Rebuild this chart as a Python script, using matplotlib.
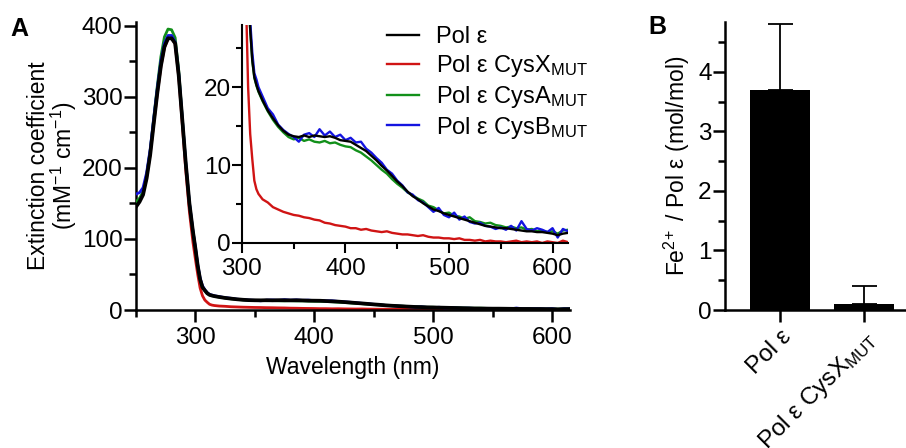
import matplotlib
matplotlib.use("Agg")
import matplotlib.pyplot as plt
from matplotlib.ticker import MultipleLocator

plt.rcParams['font.family'] = ['Liberation Sans', 'DejaVu Sans']
plt.rcParams['mathtext.default'] = 'regular'
plt.rcParams['font.size'] = 16.5

# absorbance spectra
wavelength = [250, 253, 256, 259, 262, 265, 268, 271, 274, 277, 280, 283,
              286, 289, 292, 295, 298, 300,
              302, 304, 306, 308, 310, 312, 314, 316,
              320, 325, 330, 335, 340, 345, 350, 355, 360, 365, 370, 375,
              380, 385, 390, 395, 400, 405, 410, 415, 420, 425, 430, 435,
              440, 445, 450, 455, 460, 465, 470, 475, 480, 485, 490, 495,
              500, 505, 510, 515, 520, 525, 530, 535, 540, 545, 550, 555,
              560, 565, 570, 575, 580, 585, 590, 595, 600, 605, 610, 615]

pol_e = [145, 152, 162, 185, 218, 262, 305, 343, 370, 382, 382, 375,
         330, 268, 205, 150, 110, 87,
         62, 43, 32, 27.5, 23.5, 21.3, 20.3, 19.5,
         18.3, 17.0, 16.0, 15.1, 14.4, 13.9, 13.7, 13.6, 13.8, 13.6, 13.8, 13.7,
         13.6, 13.7, 13.5, 13.2, 13.1, 13.0, 12.6, 12.2, 11.8, 11.2, 10.6, 9.9,
         9.3, 8.6, 7.9, 7.3, 6.6, 6.0, 5.6, 5.1, 4.7, 4.3, 4.1, 3.8,
         3.6, 3.4, 3.2, 3.0, 2.8, 2.6, 2.4, 2.2, 2.1, 2.0, 1.9, 1.9,
         1.8, 1.7, 1.6, 1.5, 1.5, 1.4, 1.4, 1.3, 1.2, 1.0, 1.2, 1.3]

cysx = [150, 155, 164, 186, 219, 262, 304, 342, 369, 381, 383, 374,
        328, 262, 195, 138, 95, 72,
        50, 31, 20, 14, 10.8, 8.0, 6.9, 6.3,
        5.6, 5.2, 4.6, 4.3, 4.0, 3.8, 3.6, 3.5, 3.3, 3.2, 3.0, 2.9,
        2.6, 2.5, 2.3, 2.2, 2.1, 1.9, 1.9, 1.7, 1.8, 1.6, 1.5, 1.4,
        1.5, 1.3, 1.2, 1.1, 1.1, 1.0, 0.9, 1.0, 0.8, 0.7, 0.7, 0.6,
        0.6, 0.5, 0.6, 0.4, 0.4, 0.3, 0.4, 0.2, 0.3, 0.2, 0.2, 0.1,
        0.2, 0.3, 0.1, 0.2, 0.1, 0.2, 0.0, 0.2, 0.1, 0.0, 0.3, 0.1]

cysa = [152, 157, 166, 190, 224, 270, 315, 356, 384, 395, 394, 383,
        337, 270, 205, 150, 110, 87,
        62, 43, 32, 27.4, 23.4, 21.2, 20.2, 19.4,
        18.2, 16.9, 15.8, 14.9, 14.2, 13.6, 13.3, 13.5, 13.1, 13.3, 13.0, 12.9,
        13.1, 12.8, 12.9, 12.6, 12.4, 12.3, 11.9, 11.6, 11.1, 10.6, 10.0, 9.4,
        8.9, 8.2, 7.6, 7.1, 6.5, 6.1, 5.7, 5.4, 4.8, 4.6, 4.2, 3.8,
        3.9, 3.5, 3.4, 3.1, 3.3, 2.8, 2.7, 2.5, 2.6, 2.3, 2.2, 2.0,
        2.1, 1.9, 2.0, 1.7, 1.8, 1.5, 1.6, 1.4, 1.5, 1.2, 1.6, 1.7]

cysb = [163, 165, 172, 193, 226, 270, 312, 350, 375, 386, 386, 377,
        333, 270, 206, 151, 111, 89,
        64, 45, 34, 28.5, 24.5, 21.8, 21.0, 20.0,
        18.8, 17.3, 16.5, 15.2, 14.5, 14.0, 13.6, 13.0, 13.9, 14.1, 13.6, 14.6,
        13.8, 14.3, 13.6, 13.9, 13.2, 13.5, 12.9, 13.0, 12.1, 11.6, 10.9, 10.3,
        9.4, 8.9, 8.0, 7.4, 6.5, 6.2, 5.5, 5.2, 4.6, 4.0, 4.5, 3.6,
        3.3, 3.9, 3.0, 3.4, 2.7, 2.5, 2.6, 2.2, 2.1, 1.8, 2.0, 1.7,
        2.2, 1.6, 2.8, 1.8, 1.6, 1.9, 1.7, 1.4, 1.9, 0.7, 1.8, 1.5]

# Fe2+ content
samples = ['Pol ε', 'Pol ε CysX$_{MUT}$']
fe_mean = [3.7, 0.1]
fe_err = [1.1, 0.3]

series = [
    ('Pol ε', pol_e, '#000000'),
    ('Pol ε CysX$_{MUT}$', cysx, '#d01414'),
    ('Pol ε CysA$_{MUT}$', cysa, '#12901a'),
    ('Pol ε CysB$_{MUT}$', cysb, '#1414e0'),
]
zorders = [5, 2, 3, 4]
TICK_FS = 17.5

fig = plt.figure(figsize=(9.06, 4.48), dpi=100)

def style(ax, lw=1.8, major=8.5, minor=5):
    for s in ['top', 'right']:
        ax.spines[s].set_visible(False)
    for s in ['left', 'bottom']:
        ax.spines[s].set_linewidth(lw)
    ax.tick_params(which='major', length=major, width=lw, labelsize=TICK_FS)
    ax.tick_params(which='minor', length=minor, width=lw)
    ax.tick_params(axis='y', pad=1)
    ax.tick_params(axis='x', pad=4)

# panel A
ax = fig.add_axes([0.150, 0.308, 0.479, 0.643])
for (name, vals, col), z in zip(series, zorders):
    ax.plot(wavelength, vals, color=col, lw=2.7 if col == '#000000' else 2.0, zorder=z)
ax.set_xlim(250, 615)
ax.set_ylim(0, 405)
ax.xaxis.set_major_locator(MultipleLocator(100))
ax.xaxis.set_minor_locator(MultipleLocator(50))
ax.yaxis.set_major_locator(MultipleLocator(100))
ax.yaxis.set_minor_locator(MultipleLocator(50))
style(ax)
ax.set_xlabel('Wavelength (nm)', labelpad=5)
ax.set_ylabel('Extinction coefficient\n(mM$^{-1}$ cm$^{-1}$)', linespacing=0.95, labelpad=2)

# inset
ax_in = fig.add_axes([0.267, 0.4576, 0.360, 0.487])
ax_in.patch.set_alpha(0)
handles = []
for (name, vals, col), z in zip(series, zorders):
    h, = ax_in.plot(wavelength, vals, color=col, lw=1.7, zorder=z, label=name)
    handles.append(h)
ax_in.set_xlim(300, 615)
ax_in.set_ylim(0, 28)
ax_in.xaxis.set_major_locator(MultipleLocator(100))
ax_in.xaxis.set_minor_locator(MultipleLocator(50))
ax_in.yaxis.set_major_locator(MultipleLocator(10))
ax_in.yaxis.set_minor_locator(MultipleLocator(5))
style(ax_in, lw=1.5, major=7, minor=4)

fig.legend(handles=handles, loc='upper left', bbox_to_anchor=(0.427, 0.941),
           frameon=False, borderpad=0, borderaxespad=0, handlelength=1.35,
           handletextpad=0.75, labelspacing=0.2, fontsize=17)

# panel B
axb = fig.add_axes([0.800, 0.308, 0.205, 0.643])
axb.bar([0, 1], fe_mean, width=0.71, color='black')
axb.errorbar([0, 1], fe_mean, yerr=[[0, 0], fe_err], fmt='none', ecolor='black',
             elinewidth=1.3, capsize=9, capthick=1.3)
axb.set_xlim(-0.66, 1.55)
axb.set_ylim(0, 4.84)
axb.yaxis.set_major_locator(MultipleLocator(1))
axb.yaxis.set_minor_locator(MultipleLocator(0.5))
style(axb)
axb.set_xticks([0, 1])
axb.set_xticklabels(samples, rotation=45, ha='right', va='top', rotation_mode='anchor')
axb.tick_params(axis='x', pad=3)
axb.set_ylabel('Fe$^{2\\!+}$ / Pol ε (mol/mol)', labelpad=4)

fig.text(0.011, 0.962, 'A', fontsize=18, fontweight='bold', va='top')
fig.text(0.716, 0.966, 'B', fontsize=18, fontweight='bold', va='top')

fig.savefig('out.png', dpi=100)
